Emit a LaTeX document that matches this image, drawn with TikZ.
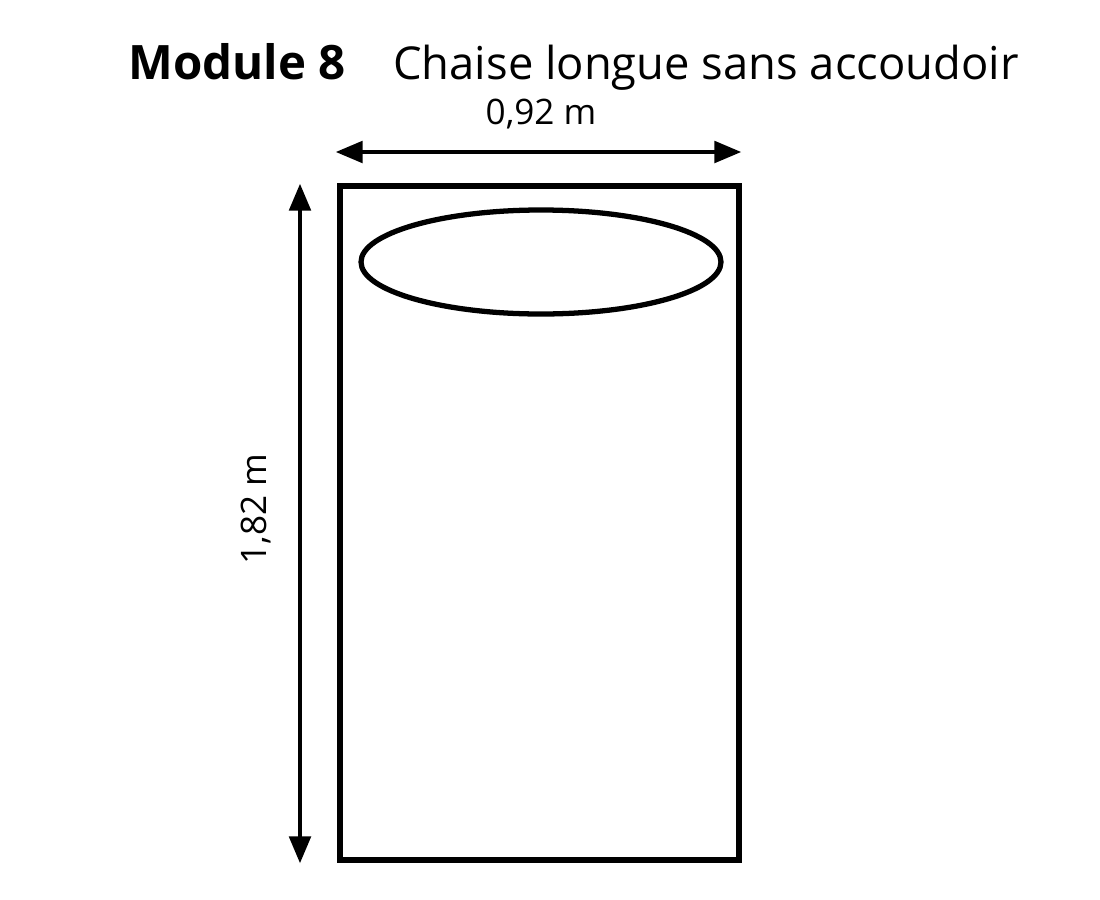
\documentclass[tikz,border=0pt]{standalone}
\usepackage{fontspec}
\setmainfont{Open Sans}
\usetikzlibrary{arrows,positioning,shapes.geometric}

\tikzset{
	dimline/.style={line width=2.6pt, triangle 45-triangle 45},
	dimlabel/.style={font=\fontsize{20}{24}\selectfont, inner sep=0pt},
	outline/.style={draw, line width=3pt, inner sep=0pt}
}

\begin{document}
\begin{tikzpicture}[x=0.02cm, y=-0.02cm]
	\useasboundingbox (0,0) rectangle (1100,900);
	% titre
	\node[anchor=base west, inner sep=0pt, font=\fontsize{27}{32}\selectfont\bfseries] (module) at (128,79) {Module 8};
	\node[anchor=base west, inner sep=0pt, font=\fontsize{25.8}{31}\selectfont] (titre) at (393,79) {Chaise longue sans accoudoir};
	% chaise et coussin
	\node[outline, minimum width=399*0.02cm, minimum height=674*0.02cm] (chaise) at (539.5,523) {};
	\node[outline, ellipse, minimum width=360*0.02cm, minimum height=104*0.02cm] (coussin) at (541,262) {};
	% cotes
	\coordinate (hg) at (336,152);
	\coordinate (hd) at (741,152);
	\coordinate (vh) at (300,184);
	\coordinate (vb) at (300,863);
	\draw[dimline] (hg) -- (hd);
	\draw[dimline] (vh) -- (vb);
	\node[dimlabel] (largeur) at (541,114) {0,92 m};
	\node[dimlabel, rotate=90] (longueur) at (256,509) {1,82 m};
\end{tikzpicture}
\end{document}
